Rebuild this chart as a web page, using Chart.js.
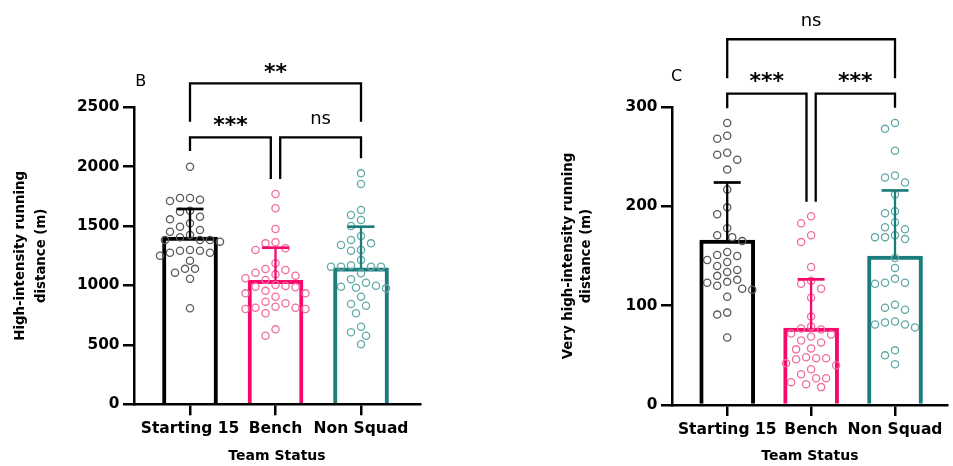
<!DOCTYPE html>
<html>
<head>
<meta charset="utf-8">
<script src="https://cdn.jsdelivr.net/npm/chart.js@4.4.1/dist/chart.umd.min.js"></script>
<style>
	html, body { margin: 0; padding: 0; background: #fff; }
	#wrap { position: relative; width: 953px; height: 466px; overflow: hidden; }
	#chartB { position: absolute; left: 0; top: 0; }
	#chartC { position: absolute; left: 476px; top: 0; }
</style>
</head>
<body>
<div id="wrap">
	<canvas id="chartB" width="476" height="466"></canvas>
	<canvas id="chartC" width="477" height="466"></canvas>
</div>
<script>
const categories = ["Starting 15", "Bench", "Non Squad"];

// Panel B - high-intensity running distance (m)
const hirMean = [1408, 1044, 1148];
const hirSD = [236, 274, 347];
const hirStarting = [2000, 1722, 1736, 1711, 1736, 1621, 1630, 1579, 1523, 1557, 1495, 1467, 1453, 1425, 1383, 1383, 1383, 1369, 1406, 1276, 1276, 1293, 1293, 1299, 1251, 1209, 1108, 1140, 1140, 1057, 808];
const hirBench = [1770, 1650, 1476, 1364, 1355, 1313, 1299, 1187, 1139, 1131, 1108, 1094, 1083, 1061, 1046, 1004, 996, 985, 990, 955, 934, 934, 905, 850, 864, 813, 822, 813, 802, 802, 766, 631, 577];
const hirNonSquad = [1944, 1854, 1636, 1593, 1551, 1501, 1417, 1341, 1383, 1355, 1299, 1293, 1215, 1158, 1158, 1158, 1170, 1158, 1103, 1052, 976, 981, 990, 998, 1024, 906, 830, 844, 766, 653, 606, 577, 505];

// Panel C - very high-intensity running distance (m)
const vhirMean = [166, 77.5, 150];
const vhirSD = [58, 49, 66];
const vhirStarting = [284, 271, 268, 254, 252, 247, 237, 217, 199, 192, 178, 171, 169, 165, 154, 144, 134, 123, 146, 150, 140, 130, 120, 109, 151, 136, 124, 116, 126, 117, 93, 91, 68];
const vhirBench = [190, 183, 171, 164, 139, 125, 122, 117, 108, 89, 79, 76, 77, 71, 72, 69, 65, 63, 56, 57, 48, 46, 47, 47, 42, 40, 36, 31, 27, 27, 23, 21, 18];
const vhirNonSquad = [284, 278, 256, 231, 229, 224, 212, 195, 193, 184, 177, 179, 169, 167, 169, 171, 148, 138, 122, 123, 123, 127, 98, 101, 96, 81, 84, 78, 83, 81, 55, 50, 41];

const barColors = ["#000000", "#f7086c", "#1a7d7b"];
const dotColors = ["#5a5a5a", "#ef6f9d", "#62a9a6"];

Chart.defaults.font.family = "'DejaVu Sans', sans-serif";
Chart.defaults.color = "#000";

// greedy beeswarm, returns pixel offsets in input order
function swarm(values, pxPerUnit, step, diam) {
	const order = values.map((v, i) => i).sort((a, b) => values[b] - values[a]);
	const placed = [];
	const offs = new Array(values.length).fill(0);
	order.forEach((i) => {
		const py = values[i] * pxPerUnit;
		for (let k = 0; k < 60; k++) {
			const ox = Math.ceil(k / 2) * (k % 2 ? -1 : 1) * step;
			if (placed.every((p) => Math.hypot(p.x - ox, p.y - py) >= diam)) {
				placed.push({ x: ox, y: py });
				offs[i] = ox;
				break;
			}
		}
	});
	return offs;
}

const errorBars = {
	id: "errorBars",
	afterDatasetsDraw(chart, args, o) {
		const { ctx, scales: { x, y } } = chart;
		o.means.forEach((m, i) => {
			const px = x.getPixelForValue(i);
			const y0 = y.getPixelForValue(m);
			const y1 = y.getPixelForValue(m + o.sd[i]);
			ctx.save();
			ctx.strokeStyle = barColors[i];
			ctx.lineWidth = 2.3;
			ctx.beginPath();
			ctx.moveTo(px, y0);
			ctx.lineTo(px, y1);
			ctx.stroke();
			ctx.lineWidth = 2.7;
			ctx.beginPath();
			ctx.moveTo(px - 13.5, y1);
			ctx.lineTo(px + 13.5, y1);
			ctx.stroke();
			ctx.restore();
		});
	},
};

function centredText(ctx, text, cx, cy, font) {
	ctx.font = font;
	const m = ctx.measureText(text);
	ctx.textAlign = "center";
	ctx.textBaseline = "alphabetic";
	ctx.fillText(text, cx, cy + (m.actualBoundingBoxAscent - m.actualBoundingBoxDescent) / 2);
}

const sigBrackets = {
	id: "sigBrackets",
	afterDraw(chart, args, o) {
		const { ctx, chartArea, scales: { x, y } } = chart;
		ctx.save();
		ctx.strokeStyle = "#000";
		ctx.fillStyle = "#000";
		ctx.lineWidth = 2.3;
		ctx.lineCap = "butt";
		ctx.lineJoin = "miter";
		o.brackets.forEach((b) => {
			const xa = x.getPixelForValue(b.from);
			const xb = x.getPixelForValue(b.to);
			const yt = y.getPixelForValue(b.level);
			ctx.beginPath();
			ctx.moveTo(xa, y.getPixelForValue(b.legA));
			ctx.lineTo(xa, yt);
			ctx.lineTo(xb, yt);
			ctx.lineTo(xb, y.getPixelForValue(b.legB));
			ctx.stroke();
			const font = b.text === "ns" ? "18px 'DejaVu Sans'" : "bold 22px 'DejaVu Sans'";
			centredText(ctx, b.text, (xa + xb) / 2, y.getPixelForValue(b.textAt), font);
		});
		centredText(ctx, o.letter, chartArea.left + o.letterDx, chartArea.top + o.letterDy, "16px 'DejaVu Sans'");
		ctx.restore();
	},
};

function makePanel(id, cfg) {
	const ctx = document.getElementById(id);
	const groups = [cfg.starting, cfg.bench, cfg.nonSquad];
	const chart = new Chart(ctx, {
		type: "bar",
		data: {
			datasets: [
				{
					type: "bar",
					data: cfg.means.map((m, i) => ({ x: i, y: m })),
					borderColor: barColors,
					backgroundColor: "rgba(255,255,255,0)",
					borderWidth: 3.3,
					borderSkipped: "start",
					barThickness: 55,
					order: 3,
				},
			].concat(
				groups.map((g, i) => ({
					type: "scatter",
					data: g.map((v) => ({ x: i, y: v })),
					pointRadius: 3.6,
					pointBorderWidth: 1.3,
					pointBackgroundColor: "rgba(0,0,0,0)",
					pointBorderColor: dotColors[i],
					order: 1,
				}))
			),
		},
		options: {
			responsive: false,
			animation: false,
			events: [],
			layout: { padding: cfg.padding },
			plugins: {
				legend: { display: false },
				tooltip: { enabled: false },
				errorBars: { means: cfg.means, sd: cfg.sd },
				sigBrackets: { brackets: cfg.brackets, letter: cfg.letter, letterDx: cfg.letterDx, letterDy: cfg.letterDy },
			},
			scales: {
				x: {
					type: "linear",
					min: cfg.xMin,
					max: cfg.xMax,
					offset: false,
					afterBuildTicks: (s) => {
						s.ticks = [0, 1, 2].map((v) => ({ value: v }));
					},
					afterFit: (s) => {
						s.height = cfg.xHeight;
					},
					ticks: {
						callback: (v) => categories[v],
						font: { size: 15.5, weight: "bold" },
						color: "#000",
						padding: 4.2,
						maxRotation: 0,
						autoSkip: false,
					},
					grid: { offset: false, drawOnChartArea: false, tickLength: 11, lineWidth: 2.5, color: "#000" },
					border: { width: 2.5, color: "#000" },
					title: { display: true, text: "Team Status", font: { size: 14, weight: "bold" }, color: "#000", padding: { top: 0, bottom: 1 } },
				},
				y: {
					min: 0,
					max: cfg.yMax,
					afterFit: (s) => {
						s.width = cfg.yWidth;
					},
					ticks: {
						stepSize: cfg.yStep,
						callback: (v) => String(v),
						font: { size: 15.3, weight: "bold" },
						color: "#000",
						padding: 3.5,
					},
					grid: { drawOnChartArea: false, tickLength: 11, lineWidth: 2.5, color: "#000" },
					border: { width: 2.5, color: "#000" },
					title: {
						display: true,
						text: cfg.yTitle,
						font: { size: 13.3, weight: "bold", lineHeight: cfg.titleLine },
						color: "#000",
						padding: { top: cfg.titlePad, bottom: 0 },
					},
				},
			},
		},
		plugins: [errorBars, sigBrackets],
	});

	// spread the dots sideways once the scales are known
	const x = chart.scales.x;
	const y = chart.scales.y;
	const pxPerX = x.getPixelForValue(1) - x.getPixelForValue(0);
	const pxPerY = Math.abs(y.getPixelForValue(cfg.yMax) - y.getPixelForValue(0)) / cfg.yMax;
	groups.forEach((g, i) => {
		const offs = swarm(g, pxPerY, 5, 9.6);
		chart.data.datasets[i + 1].data = g.map((v, j) => ({ x: i + offs[j] / pxPerX, y: v }));
	});
	chart.update("none");
	return chart;
}

makePanel("chartB", {
	means: hirMean,
	sd: hirSD,
	starting: hirStarting,
	bench: hirBench,
	nonSquad: hirNonSquad,
	padding: { top: 107.3, right: 56, bottom: 0, left: 0 },
	xMin: -0.655,
	xMax: 2.69,
	xHeight: 61.7,
	yMax: 2500,
	yStep: 500,
	yWidth: 134,
	yTitle: ["High-intensity running", "distance (m)"],
	titleLine: "21px",
	titlePad: 10.2,
	letter: "B",
	letterDx: 6.8,
	letterDy: -27.5,
	brackets: [
		{ from: 0, to: 2, level: 2702, legA: 2379, legB: 2379, text: "**", textAt: 2831 },
		{ from: 0, to: 0.945, level: 2247, legA: 2132, legB: 1896, text: "***", textAt: 2385 },
		{ from: 1.055, to: 2, level: 2247, legA: 1896, legB: 2071, text: "ns", textAt: 2401 },
	],
});

makePanel("chartC", {
	means: vhirMean,
	sd: vhirSD,
	starting: vhirStarting,
	bench: vhirBench,
	nonSquad: vhirNonSquad,
	padding: { top: 107, right: 0, bottom: 0, left: 0 },
	xMin: -0.658,
	xMax: 2.628,
	xHeight: 61,
	yMax: 300,
	yStep: 100,
	yWidth: 196,
	yTitle: ["Very high-intensity running", "distance (m)"],
	titleLine: "18px",
	titlePad: 84,
	letter: "C",
	letterDx: 4.7,
	letterDy: -32,
	brackets: [
		{ from: 0, to: 2, level: 368.2, legA: 328.9, legB: 328.9, text: "ns", textAt: 386.6 },
		{ from: 0, to: 0.945, level: 313.4, legA: 298.7, legB: 204.7, text: "***", textAt: 330.7 },
		{ from: 1.055, to: 2, level: 313.4, legA: 204.7, legB: 299.3, text: "***", textAt: 330.7 },
	],
});
</script>
</body>
</html>
